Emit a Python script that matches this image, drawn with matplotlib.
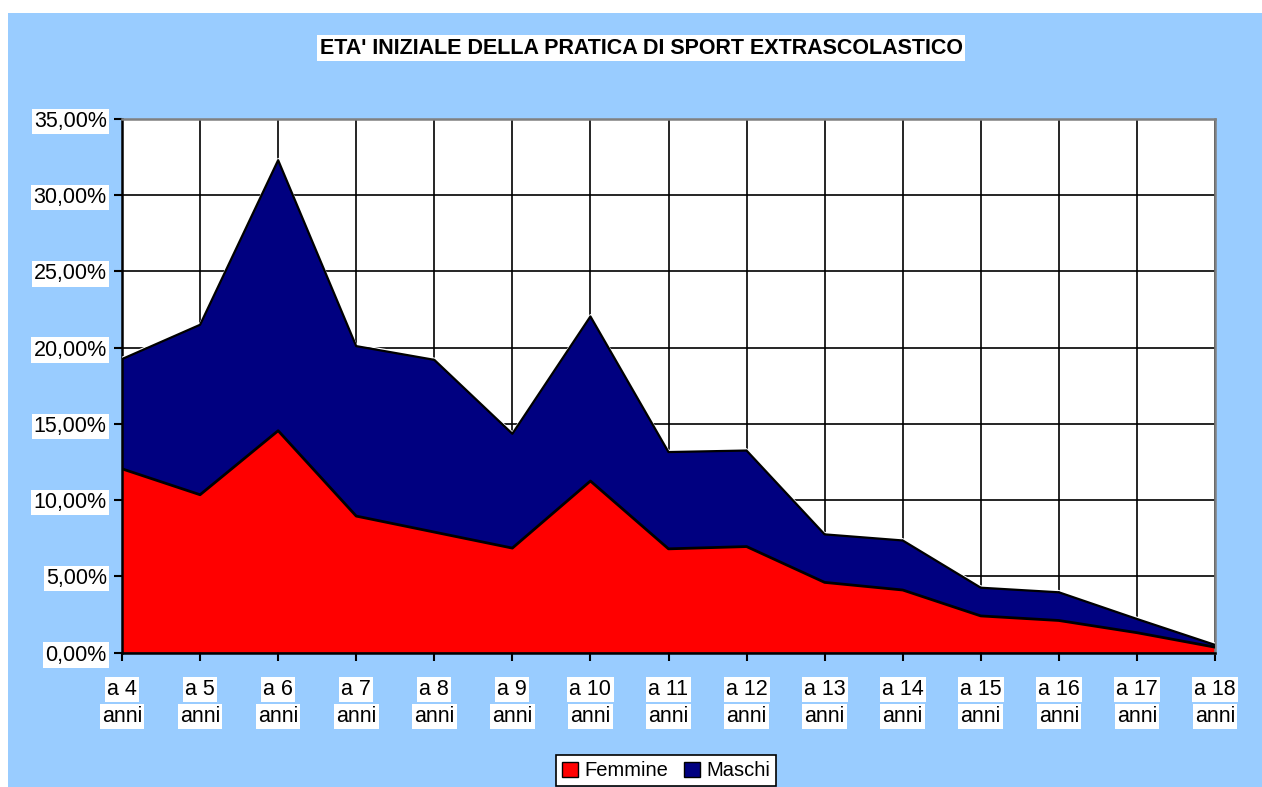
import matplotlib.pyplot as plt
import matplotlib.transforms as mtransforms
from matplotlib.patches import Rectangle

plt.rcParams['font.family'] = ['Liberation Sans', 'DejaVu Sans']

# dati (percentuali)
eta = ["a 4", "a 5", "a 6", "a 7", "a 8", "a 9", "a 10", "a 11",
       "a 12", "a 13", "a 14", "a 15", "a 16", "a 17", "a 18"]
femmine = [12.05, 10.35, 14.55, 8.95, 7.9, 6.85, 11.25, 6.8,
           6.95, 4.6, 4.1, 2.4, 2.1, 1.3, 0.35]
maschi = [7.2, 11.15, 17.75, 11.15, 11.3, 7.5, 10.8, 6.35,
          6.3, 3.15, 3.25, 1.85, 1.85, 0.9, 0.15]
yticks = [0, 5, 10, 15, 20, 25, 30, 35]

W, H = 1262, 787
fig = plt.figure(figsize=(W / 100, H / 100), dpi=100)
fig.patch.set_facecolor('white')
fig.patches.append(Rectangle((8 / W, 0), 1 - 8 / W, (H - 13) / H,
                             transform=fig.transFigure, facecolor='#99CCFF',
                             edgecolor='none', zorder=-5))

ax = fig.add_axes([122 / W, (H - 652.5) / H, 1093 / W, 533.5 / H])
ax.set_zorder(1)
ax.set_facecolor('white')
x = list(range(len(eta)))
totale = [f + m for f, m in zip(femmine, maschi)]

ax.fill_between(x, 0, femmine, facecolor='#FF0000', edgecolor='none', zorder=2)
ax.fill_between(x, femmine, totale, facecolor='#000080', edgecolor='none', zorder=2)
# sottile riflesso bianco sopra il bordo superiore
shift = mtransforms.ScaledTranslation(0, 1.2 / 72, fig.dpi_scale_trans)
ax.plot(x, totale, color='white', lw=1.0, zorder=3, transform=ax.transData + shift)
ax.plot(x, totale, color='black', lw=1.6, zorder=4)
ax.plot(x, femmine, color='black', lw=2.0, zorder=4)

ax.set_xlim(0, len(eta) - 1)
ax.set_ylim(0, 35)
ax.set_yticks(yticks)
ax.set_yticklabels([f"{v:.2f}".replace('.', ',') + "%" for v in yticks], fontsize=15.5)
ax.set_xticks(x)
ax.set_xticklabels(eta, fontsize=15.5)
ax.grid(True, color='black', lw=1.2)
ax.set_axisbelow(True)
ax.tick_params(axis='both', direction='out', length=6, width=1.5, color='black')
ax.tick_params(axis='x', pad=13)
ax.tick_params(axis='y', pad=5)

for lab in ax.get_xticklabels() + ax.get_yticklabels():
    lab.set_bbox(dict(facecolor='white', edgecolor='none', pad=1.5))

tr = mtransforms.blended_transform_factory(ax.transData, ax.transAxes)
for xi in x:
    ax.text(xi, -0.12, "anni", transform=tr, ha='center', va='center', fontsize=15.5,
            bbox=dict(facecolor='white', edgecolor='none', pad=1.5), clip_on=False)

for s in ['left', 'bottom']:
    ax.spines[s].set_color('black')
    ax.spines[s].set_linewidth(1.8)
for s in ['top', 'right']:
    ax.spines[s].set_color('#808080')
    ax.spines[s].set_linewidth(1.8)

fig.text(641 / W, 1 - 48 / H, "ETA' INIZIALE DELLA PRATICA DI SPORT EXTRASCOLASTICO",
         ha='center', va='center', fontsize=15.5, fontweight='bold',
         bbox=dict(facecolor='white', edgecolor='none', pad=1.5))

h1 = Rectangle((0, 0), 1, 1, facecolor='#FF0000', edgecolor='black')
h2 = Rectangle((0, 0), 1, 1, facecolor='#000080', edgecolor='black')
leg = fig.legend([h1, h2], ["Femmine", "Maschi"], loc='lower center',
                 bbox_to_anchor=(666 / W, -0.012), ncol=2, fontsize=14.5,
                 frameon=True, fancybox=False, handlelength=0.8, handleheight=0.8,
                 handletextpad=0.3, columnspacing=0.8, borderpad=0.3)
leg.get_frame().set_edgecolor('black')
leg.get_frame().set_linewidth(1.2)
leg.get_frame().set_alpha(1)

fig.savefig("out.png", dpi=100)
